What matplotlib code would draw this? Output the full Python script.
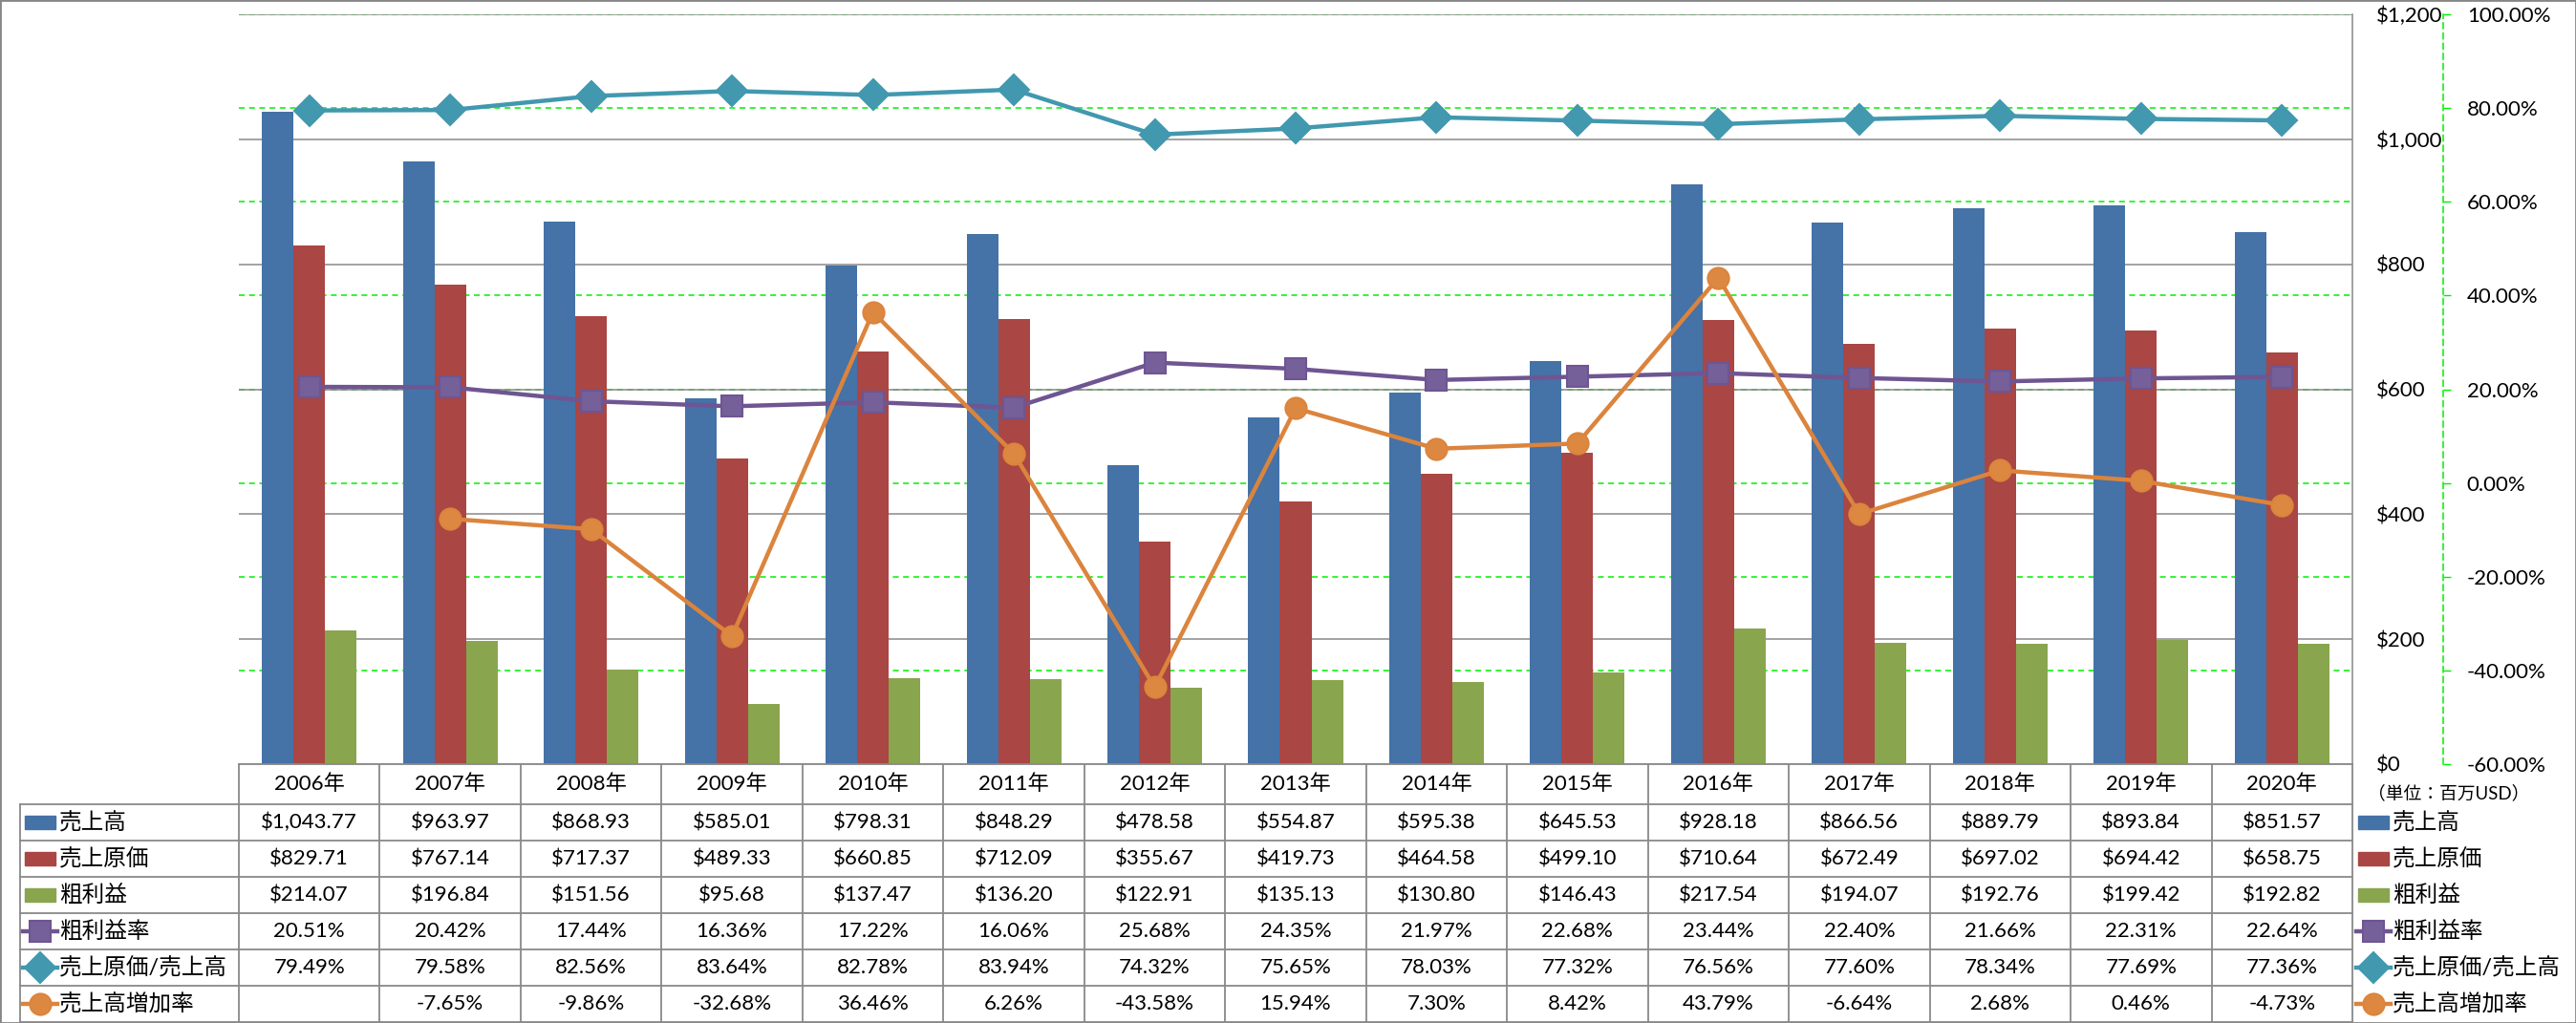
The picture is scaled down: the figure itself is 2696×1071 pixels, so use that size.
import numpy as np
import matplotlib
matplotlib.use('Agg')
import matplotlib.pyplot as plt
import matplotlib.transforms as mtransforms
from matplotlib.lines import Line2D
from matplotlib.patches import Rectangle

plt.rcParams['font.family'] = ['Lato', 'Noto Sans CJK JP']

# データ (単位: 百万USD)
years = ['2006年', '2007年', '2008年', '2009年', '2010年', '2011年', '2012年',
         '2013年', '2014年', '2015年', '2016年', '2017年', '2018年', '2019年', '2020年']
sales = [1043.77, 963.97, 868.93, 585.01, 798.31, 848.29, 478.58,
         554.87, 595.38, 645.53, 928.18, 866.56, 889.79, 893.84, 851.57]
cost = [829.71, 767.14, 717.37, 489.33, 660.85, 712.09, 355.67,
        419.73, 464.58, 499.10, 710.64, 672.49, 697.02, 694.42, 658.75]
gross = [214.07, 196.84, 151.56, 95.68, 137.47, 136.20, 122.91,
         135.13, 130.80, 146.43, 217.54, 194.07, 192.76, 199.42, 192.82]
margin = [20.51, 20.42, 17.44, 16.36, 17.22, 16.06, 25.68,
          24.35, 21.97, 22.68, 23.44, 22.40, 21.66, 22.31, 22.64]
cost_ratio = [79.49, 79.58, 82.56, 83.64, 82.78, 83.94, 74.32,
              75.65, 78.03, 77.32, 76.56, 77.60, 78.34, 77.69, 77.36]
growth = [np.nan, -7.65, -9.86, -32.68, 36.46, 6.26, -43.58,
          15.94, 7.30, 8.42, 43.79, -6.64, 2.68, 0.46, -4.73]

names = ['売上高', '売上原価', '粗利益', '粗利益率', '売上原価/売上高', '売上高増加率']
series = [sales, cost, gross, margin, cost_ratio, growth]
colors = ['#4572A7', '#AA4643', '#89A54E', '#6F5592', '#4198AF', '#DB843D']
face = ['#4572A7', '#AA4643', '#89A54E', '#76609A', '#4198AF', '#DD8840']
markers = [None, None, None, 's', 'D', 'o']
msizes = [0, 0, 0, 16, 16, 16]

usd_ticks = [0, 200, 400, 600, 800, 1000, 1200]
pct_ticks = [-60, -40, -20, 0, 20, 40, 60, 80, 100]

# 画素座標
W, H = 2696, 1071
L, R, T, B = 250, 2462, 15, 800
def fx(px):
    return px / W
def fy(py):
    return 1 - py / H

gray = '#898989'
green = '#00F000'

fig = plt.figure(figsize=(W / 100, H / 100), dpi=100)
ax = fig.add_axes([fx(L), fy(B), (R - L) / W, (B - T) / H])
ax2 = ax.twinx()

x = np.arange(len(years))
bw = 0.224
for i in range(3):
    ax.bar(x + (i - 1) * bw, series[i], bw, color=colors[i], zorder=3)

ax.set_xlim(-0.5, len(years) - 0.5)
ax.set_ylim(0, 1200)
ax.set_xticks([])
ax.set_yticks(usd_ticks)
ax.set_yticklabels(['${:,.0f}'.format(v) for v in usd_ticks])
ax.yaxis.tick_right()
ax.tick_params(axis='y', length=0, pad=18, labelsize=16)
for v in usd_ticks:
    ax.axhline(v, color=gray, lw=1.1, zorder=2)
for s in ['left', 'top', 'bottom']:
    ax.spines[s].set_visible(False)
ax.spines['right'].set_color(gray)
ax.spines['right'].set_linewidth(1.1)

# 第2軸の緑の点線グリッド (棒の後ろ)
blend = mtransforms.blended_transform_factory(ax.transAxes, ax2.transData)
for p in pct_ticks:
    ax.plot([0, 1], [p, p], transform=blend, color=green, lw=1.1,
            ls=(0, (4, 3)), zorder=1)

for i in range(3, 6):
    ax2.plot(x, series[i], color=colors[i], lw=3.2, marker=markers[i],
             ms=msizes[i], mfc=face[i], mec=colors[i], mew=1.5, zorder=5)

ax2.set_ylim(-60, 100)
ax2.set_yticks(pct_ticks)
ax2.set_yticklabels(['{:.2f}%'.format(p) for p in pct_ticks])
for lab, p in zip(ax2.get_yticklabels(), pct_ticks):
    lab.set_color('red' if p < 0 else 'black')
ax2.tick_params(axis='y', length=5.8, width=1, color=green, pad=12, labelsize=16)
for s in ['left', 'top', 'bottom']:
    ax2.spines[s].set_visible(False)
ax2.spines['right'].set_position(('outward', 68.4))
ax2.spines['right'].set_color(green)
ax2.spines['right'].set_linestyle((0, (4, 3)))
ax2.spines['right'].set_linewidth(1.1)

# データテーブル
def hline(y, x0, x1):
    fig.add_artist(Line2D([fx(x0), fx(x1)], [fy(y), fy(y)], transform=fig.transFigure,
                          color=gray, lw=1.3))
def vline(xp, y0, y1):
    fig.add_artist(Line2D([fx(xp), fx(xp)], [fy(y0), fy(y1)], transform=fig.transFigure,
                          color=gray, lw=1.3))

n = len(years)
col_w = (R - L) / n
head_top, head_bot, row_h = B, 842, 38
row_tops = [head_bot + k * row_h for k in range(7)]

hline(head_top, L, R)
for yy in row_tops:
    hline(yy, 21, R)
vline(21, head_bot, row_tops[-1])
for k in range(n + 1):
    vline(L + k * col_w, head_top, row_tops[-1])

for k, yr in enumerate(years):
    fig.text(fx(L + (k + 0.5) * col_w), fy((head_top + head_bot) / 2), yr,
             ha='center', va='center', fontsize=16)

def draw_key(i, x0, yc):
    if markers[i] is None:
        fig.add_artist(Rectangle((fx(x0), fy(yc + 7)), 32 / W, 14 / H,
                                 transform=fig.transFigure, color=colors[i]))
    else:
        fig.add_artist(Line2D([fx(x0 - 2), fx(x0 + 16), fx(x0 + 34)], [fy(yc)] * 3,
                              transform=fig.transFigure, color=colors[i], lw=3.2,
                              marker=markers[i], ms=msizes[i], markevery=[1],
                              mfc=face[i], mec=colors[i], mew=1.5))

for i in range(6):
    yc = row_tops[i] + row_h / 2
    draw_key(i, 26, yc)
    fig.text(fx(62), fy(yc), names[i], ha='left', va='center', fontsize=17)
    for k in range(n):
        v = series[i][k]
        if np.isnan(v):
            continue
        txt = '${:,.2f}'.format(v) if i < 3 else '{:.2f}%'.format(v)
        fig.text(fx(L + (k + 0.5) * col_w), fy(yc), txt,
                 ha='center', va='center', fontsize=16)
    # 右側の凡例
    draw_key(i, 2468, yc)
    fig.text(fx(2504), fy(yc), names[i], ha='left', va='center', fontsize=17)

fig.text(fx(2478), fy(830), '（単位：百万USD）', ha='left', va='center', fontsize=13.5)

fig.add_artist(Rectangle((0, 0), 1, 1, transform=fig.transFigure, fill=False,
                         edgecolor='#868686', lw=2))

fig.savefig('out.png', dpi=100)
